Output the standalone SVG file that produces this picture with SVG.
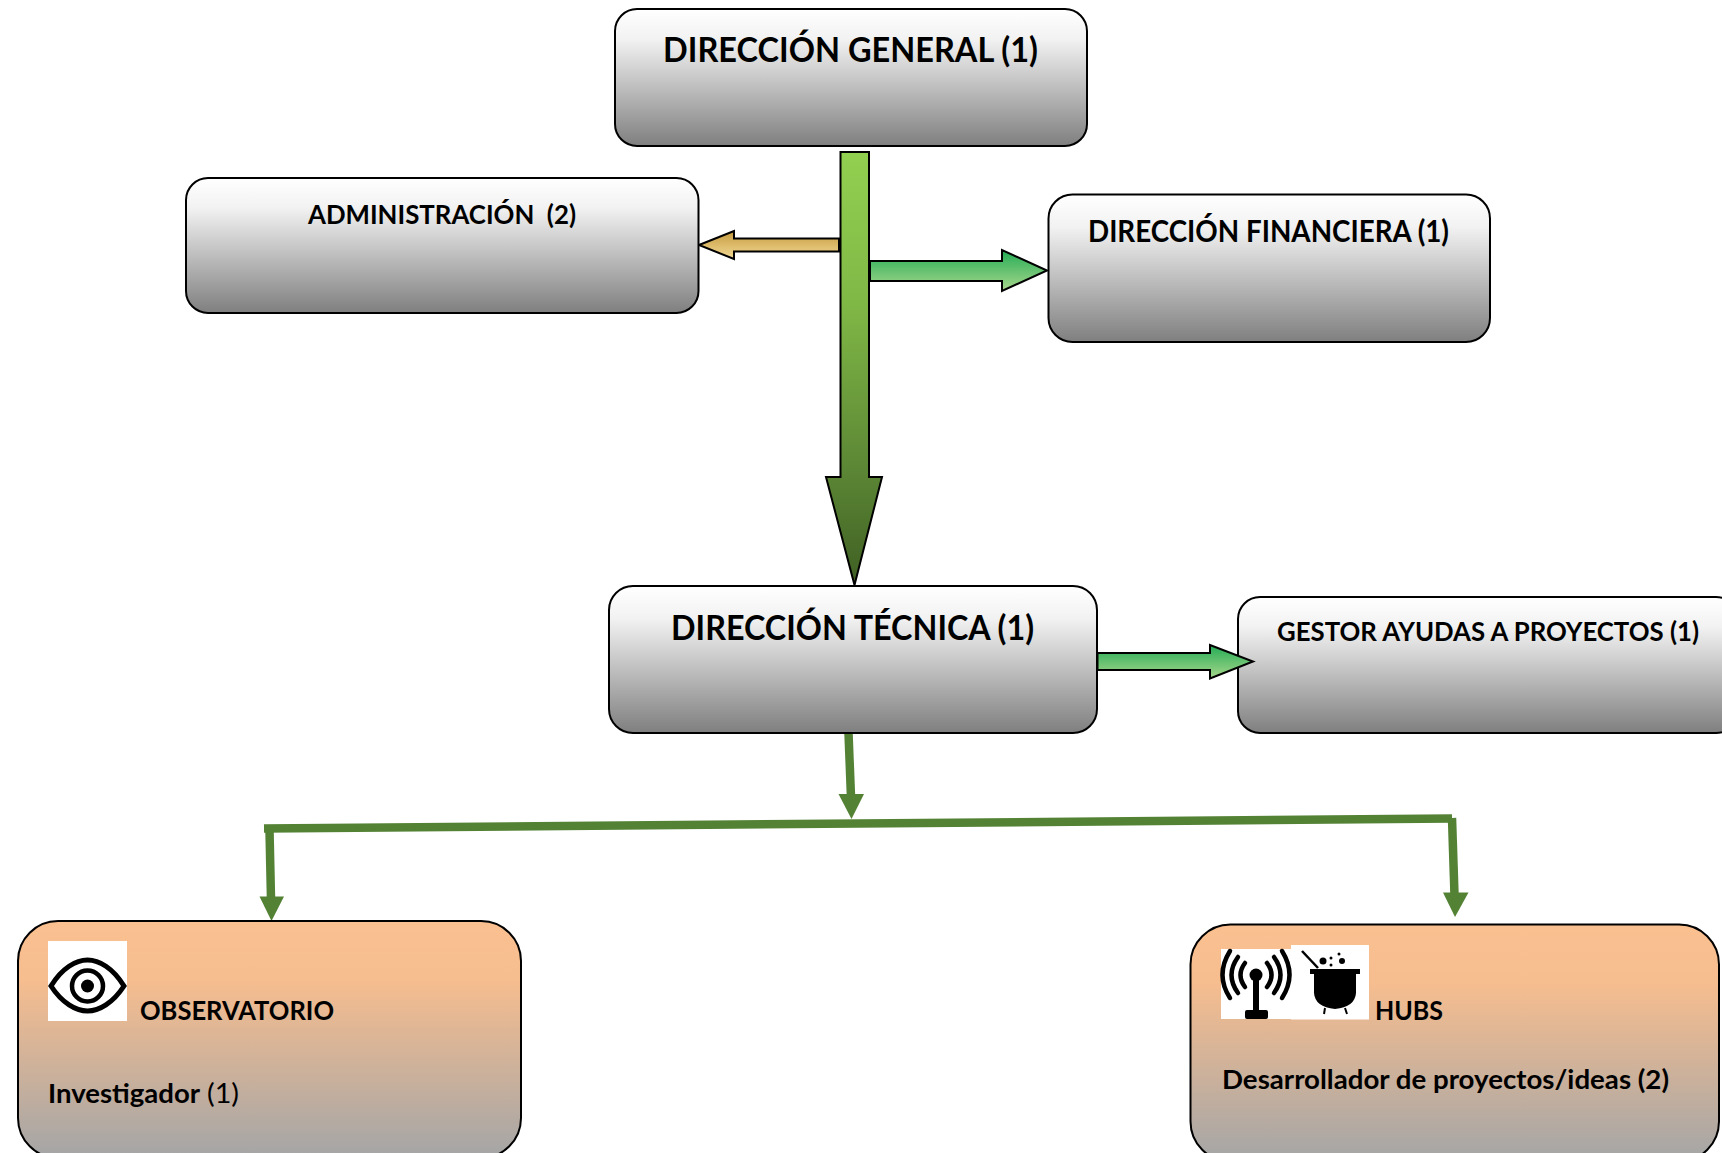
<svg xmlns="http://www.w3.org/2000/svg" width="1722" height="1153" viewBox="0 0 1722 1153">
<style>
text{font-family:"Lato","Liberation Sans",sans-serif;font-weight:700;fill:#000}
.n{font-weight:400}
.box{stroke:#000;stroke-width:2}
.grey{fill:url(#gGrey)}
.orange{fill:url(#gOrange)}
.arrow{stroke:#000;stroke-width:2;stroke-linejoin:miter}
.line{fill:none;stroke:#548235;stroke-width:8.5}
.head{fill:#548235}
.ic{fill:none;stroke:#000}
</style>
<defs>
<linearGradient id="gGrey" x1="0" y1="0" x2="0" y2="1"><stop offset="0" stop-color="#fff"/><stop offset=".22" stop-color="#f2f2f2"/><stop offset="1" stop-color="#7f7f7f"/></linearGradient>
<linearGradient id="gOrange" x1="0" y1="0" x2="0" y2="1"><stop offset="0" stop-color="#fac090"/><stop offset=".25" stop-color="#f6bd8f"/><stop offset=".98" stop-color="#a6a6a6"/><stop offset="1" stop-color="#a6a6a6"/></linearGradient>
<linearGradient id="gMain" x1="0" y1="0" x2="0" y2="1"><stop offset="0" stop-color="#92d050"/><stop offset=".35" stop-color="#80b846"/><stop offset=".75" stop-color="#5a8434"/><stop offset="1" stop-color="#3f5f23"/></linearGradient>
<linearGradient id="gGold" x1="0" y1="0" x2="0" y2="1"><stop offset="0" stop-color="#c59a3e"/><stop offset="1" stop-color="#f3da95"/></linearGradient>
<linearGradient id="gGreen" x1="0" y1="0" x2="0" y2="1"><stop offset="0" stop-color="#23ac55"/><stop offset="1" stop-color="#a8d78c"/></linearGradient>
</defs>
<g id="connectors">
<path class="arrow" fill="url(#gMain)" d="M840.5 152H869V477H882L854.5 585L826 477H840.5Z"/>
<path class="arrow" fill="url(#gGold)" d="M699 245L734 231V238.5H839V251.5H734V259Z"/>
<path class="arrow" fill="url(#gGreen)" d="M870 261H1002V250L1047 270.5L1002 291V281H870Z"/>
<path class="line" d="M264 828.500L1452 818.500"/>
<path class="line" d="M848.5 733L851 797"/>
<path class="head" d="M838.500 794H864L851.500 819Z"/>
<path class="line" d="M269.500 830L271 899"/>
<path class="head" d="M259.500 896.500H284L271.500 921Z"/>
<path class="line" d="M1452 818L1454.500 895"/>
<path class="head" d="M1443 892.500H1468.500L1455 917Z"/>
</g>
<g id="n-general"><rect class="box grey" x="615" y="9" width="472" height="137" rx="22"/><text x="663" y="61.500" font-size="34" textLength="375" lengthAdjust="spacingAndGlyphs">DIRECCIÓN GENERAL (1)</text></g>
<g id="n-admin"><rect class="box grey" x="186" y="178" width="512.500" height="135" rx="22"/><text x="308" y="224" font-size="27" textLength="268" lengthAdjust="spacingAndGlyphs" xml:space="preserve">ADMINISTRACIÓN  (2)</text></g>
<g id="n-financiera"><rect class="box grey" x="1048.500" y="194.500" width="441.500" height="147.500" rx="24"/><text x="1088" y="242" font-size="30" textLength="361" lengthAdjust="spacingAndGlyphs">DIRECCIÓN FINANCIERA (1)</text></g>
<g id="n-tecnica"><rect class="box grey" x="609" y="586" width="488" height="147" rx="24"/><text x="671" y="639.500" font-size="34" textLength="363" lengthAdjust="spacingAndGlyphs">DIRECCIÓN TÉCNICA (1)</text></g>
<g id="n-gestor"><rect class="box grey" x="1238" y="597" width="500" height="136" rx="22"/><text x="1277" y="641" font-size="27" textLength="422" lengthAdjust="spacingAndGlyphs">GESTOR AYUDAS A PROYECTOS (1)</text>
<path class="arrow" fill="url(#gGreen)" d="M1097.500 653H1210V645L1253 661.500L1210 678.500V670H1097.500Z"/></g>
<g id="n-observatorio"><rect class="box orange" x="18" y="921" width="503" height="237" rx="40"/>
<rect x="48" y="941" width="79" height="80" fill="#fff"/>
<path class="ic" stroke-width="5" d="M51 986C62 968 76 960 87.500 960C99 960 113 968 124 986C113 1003 99 1011 87.500 1011C76 1011 62 1003 51 986Z"/>
<circle class="ic" cx="87.500" cy="986" r="15.500" stroke-width="4.500"/><circle cx="87.500" cy="986" r="6.500"/>
<text x="140" y="1020" font-size="27" textLength="194" lengthAdjust="spacingAndGlyphs">OBSERVATORIO</text>
<text x="48" y="1103" font-size="27" textLength="152" lengthAdjust="spacingAndGlyphs">Investigador</text><text class="n" x="207" y="1103" font-size="27" textLength="32" lengthAdjust="spacingAndGlyphs">(1)</text></g>
<g id="n-hubs"><rect class="box orange" x="1190.500" y="924.500" width="528.500" height="237" rx="40"/>
<rect x="1221" y="949" width="71" height="70" fill="#fff"/><rect x="1291" y="945" width="78" height="74.500" fill="#fff"/>
<g class="ic" stroke-width="4.500" stroke-linecap="round"><path d="M1245 963Q1236 975 1245 987"/><path d="M1267 963Q1276 975 1267 987"/><path d="M1238 957Q1225 975 1238 993"/><path d="M1274 957Q1287 975 1274 993"/><path d="M1230 951Q1215 975 1230 998"/><path d="M1282 951Q1297 975 1282 998"/></g>
<circle cx="1256" cy="975" r="6.500"/><rect x="1253" y="978" width="6" height="32"/><rect x="1245" y="1010" width="23" height="9" rx="2"/>
<path d="M1302 951L1318 968" stroke="#000" stroke-width="2.500"/>
<circle cx="1323" cy="961" r="3.500"/><circle cx="1331" cy="958" r="1.500"/><circle cx="1339" cy="954" r="1.500"/><circle cx="1342" cy="961" r="3"/><circle cx="1331" cy="965" r="1.500"/>
<rect x="1310" y="969" width="50" height="5"/><path d="M1314 974H1356V993Q1355 1007 1335 1009Q1315 1007 1314 993Z"/>
<path d="M1325 1008L1324 1014M1345 1008L1347 1014" stroke="#000" stroke-width="2"/>
<text x="1375" y="1020" font-size="27" textLength="68" lengthAdjust="spacingAndGlyphs">HUBS</text>
<text x="1222" y="1089" font-size="27" textLength="447" lengthAdjust="spacingAndGlyphs">Desarrollador de proyectos/ideas (2)</text></g>
</svg>
